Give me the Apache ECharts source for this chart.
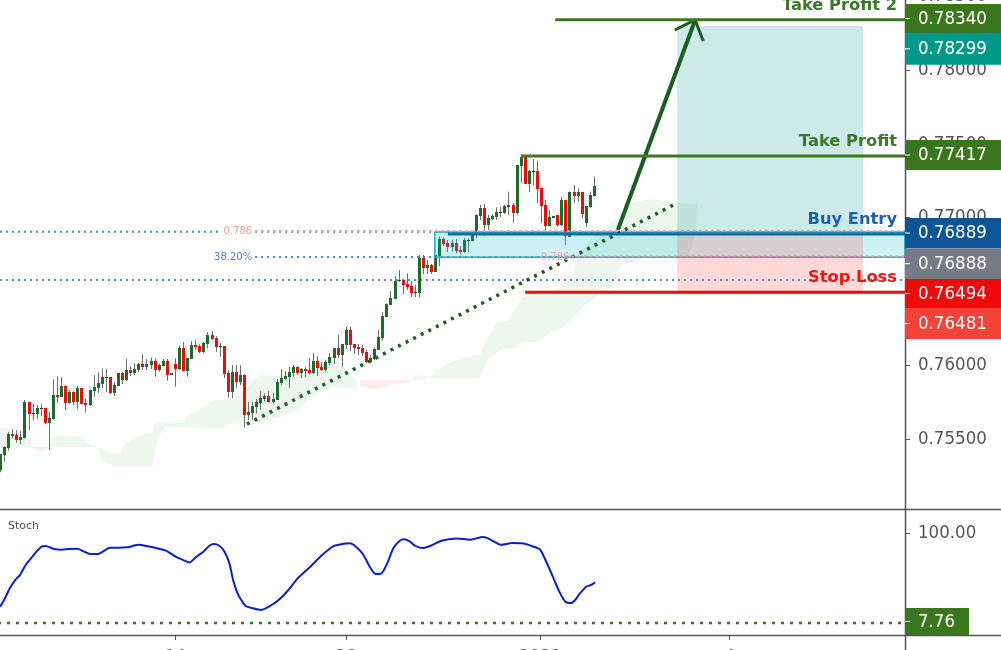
<!DOCTYPE html>
<html lang="en">
<head>
<meta charset="UTF-8">
<title>Buy entry chart</title>
<script src="https://cdn.jsdelivr.net/npm/echarts@6/dist/echarts.min.js"></script>
<style>html,body{margin:0;height:100%;background:#fff}#main{width:1001px;height:650px}</style>
</head>
<body>
<div id="main"></div>
<script>
// open, close, low, high per bar
var candles = [
[.75290,.75398,.75275,.75398],[.75391,.75448,.75346,.75452],[.75441,.75533,.75421,.75549],[.75533,.75520,.75504,.75567],
[.75524,.75493,.75475,.75561],[.75493,.75513,.75466,.75554],[.75509,.75750,.75504,.75764],[.75750,.75671,.75561,.75750],
[.75674,.75671,.75628,.75737],[.75671,.75710,.75633,.75730],[.75710,.75705,.75655,.75741],[.75710,.75610,.75601,.75710],
[.75610,.75642,.75425,.75685],[.75637,.75798,.75633,.75906],[.75798,.75786,.75746,.75926],[.75786,.75859,.75786,.75922],
[.75859,.75746,.75696,.75865],[.75746,.75818,.75737,.75832],[.75818,.75753,.75730,.75825],[.75753,.75845,.75705,.75859],
[.75845,.75739,.75737,.75850],[.75743,.75732,.75678,.75775],[.75730,.75832,.75723,.75836],[.75827,.75852,.75786,.75933],
[.75845,.75879,.75813,.75953],[.75872,.75920,.75843,.75978],[.75916,.75920,.75818,.75974],[.75920,.75811,.75804,.75920],
[.75811,.75865,.75793,.75888],[.75861,.75947,.75861,.75947],[.75947,.75899,.75872,.75956],[.75899,.75967,.75893,.76042],
[.75967,.75949,.75926,.75994],[.75949,.75974,.75933,.76014],[.75967,.76008,.75953,.76017],[.76008,.75990,.75967,.76075],
[.75990,.76008,.75967,.76042],[.76003,.76028,.75974,.76052],[.76028,.75967,.75922,.76042],[.75967,.76001,.75956,.76012],
[.75994,.76028,.75994,.76042],[.76028,.75935,.75895,.76042],[.75935,.75944,.75935,.75944],[.76008,.75974,.75854,.76046],
[.75974,.76116,.75967,.76136],[.76116,.75963,.75956,.76157],[.75963,.76048,.75922,.76048],[.76042,.76136,.76042,.76163],
[.76136,.76125,.76103,.76170],[.76130,.76091,.76080,.76143],[.76089,.76150,.76084,.76157],[.76143,.76204,.76114,.76224],
[.76204,.76179,.76170,.76231],[.76184,.76123,.76091,.76197],[.76130,.76125,.76057,.76150],[.76130,.75940,.75911,.76130],
[.75947,.75818,.75780,.75967],[.75818,.75953,.75777,.76001],[.75953,.75886,.75845,.76001],[.75886,.75933,.75865,.76001],
[.75933,.75662,.75576,.75940],[.75663,.75681,.75629,.75751],[.75676,.75724,.75629,.75751],[.75717,.75751,.75674,.75771],
[.75744,.75776,.75697,.75823],[.75771,.75791,.75753,.75810],[.75791,.75751,.75746,.75823],[.75751,.75769,.75742,.75814],
[.75764,.75886,.75764,.75907],[.75880,.75913,.75866,.75974],[.75907,.75927,.75900,.75961],[.75920,.75954,.75846,.75988],
[.75947,.75988,.75922,.76001],[.75988,.75947,.75934,.75995],[.75947,.75974,.75913,.75981],[.75974,.75961,.75922,.75986],
[.75968,.75947,.75940,.76049],[.75947,.76029,.75940,.76083],[.76029,.75981,.75927,.76062],[.75988,.75968,.75961,.76022],
[.75968,.76022,.75956,.76035],[.76015,.76056,.76001,.76083],[.76049,.76117,.76008,.76117],[.76117,.76069,.76049,.76205],
[.76069,.76144,.75990,.76144],[.76137,.76239,.76110,.76259],[.76239,.76137,.76096,.76259],[.76144,.76117,.76076,.76144],
[.76123,.76110,.76069,.76144],[.76117,.76083,.76062,.76137],[.76090,.76022,.76015,.76103],[.76022,.76049,.76013,.76069],
[.76042,.76110,.76035,.76121],[.76103,.76191,.76103,.76239],[.76184,.76333,.76166,.76360],[.76327,.76415,.76327,.76419],
[.76408,.76455,.76408,.76503],[.76449,.76570,.76449,.76604],[.76570,.76577,.76564,.76645],[.76577,.76543,.76482,.76577],
[.76550,.76530,.76510,.76622],[.76537,.76489,.76462,.76570],[.76496,.76491,.76462,.76543],[.76490,.76727,.76460,.76747],
[.76727,.76659,.76618,.76747],[.76659,.76679,.76618,.76713],[.76679,.76632,.76618,.76686],[.76632,.76747,.76632,.76747],
[.76740,.76855,.76672,.76871],[.76855,.76821,.76808,.76867],[.76828,.76801,.76767,.76849],[.76801,.76828,.76770,.76849],
[.76828,.76774,.76758,.76855],[.76781,.76767,.76754,.76808],[.76767,.76849,.76763,.76862],[.76846,.76849,.76767,.76860],
[.76842,.76882,.76842,.76916],[.76905,.77018,.76860,.77025],[.77011,.77065,.76984,.77086],[.77065,.76950,.76876,.77092],
[.76950,.76998,.76916,.77018],[.76991,.77011,.76984,.77025],[.77004,.77038,.76984,.77070],[.77036,.77034,.77002,.77074],
[.77031,.77079,.77025,.77086],[.77072,.77086,.77018,.77176],[.77086,.77031,.76966,.77097],[.77031,.77357,.77022,.77357],
[.77350,.77411,.77232,.77431],[.77411,.77228,.77228,.77424],[.77228,.77316,.77174,.77323],[.77316,.77311,.77221,.77397],
[.77316,.77194,.77097,.77386],[.77201,.77079,.76961,.77201],[.77086,.76943,.76916,.77120],[.76943,.77004,.76943,.77047],
[.76998,.77011,.76998,.77011],[.77018,.76950,.76939,.77018],[.76950,.77120,.76943,.77142],[.77120,.76876,.76815,.77120],
[.76871,.77174,.76871,.77176],[.77174,.77147,.77097,.77221],[.77147,.77174,.77108,.77199],[.77174,.77025,.76995,.77174],
[.76964,.77079,.76934,.77079],[.77072,.77153,.77063,.77176],[.77147,.77214,.77142,.77278]
];

// ichimoku cloud outlines, [bar, price]
var cloudGreenA = [[0,.75574],[2,.75574],[3.7,.75540],[6.1,.75507],[7.4,.75493],[8.1,.75446],[0,.75446]];
var cloudPinkA = [[8.1,.75446],[11.6,.75446],[11.3,.75425],[9.3,.75418]];
var cloudGreenB = [[11.6,.75446],[12.8,.75513],[14,.75520],[20.2,.75513],[22.1,.75459],[24.1,.75446]];
var cloudGreenC = [[24.1,.75446],[27,.75412],[29.5,.75398],[30.7,.75473],[33.7,.75513],[36.1,.75540],[37.4,.75540],[38.1,.75608],
  [45,.75608],[46.2,.75662],[49.2,.75703],[52.4,.75757],[57.3,.75778],[60.7,.75852],[63.9,.75933],[68.8,.75927],[75.5,.75988],
  [79.4,.76055],[83.6,.76015],[88,.75879],[88,.75839],[81.9,.75852],[78.7,.75818],[76.2,.75778],[73.8,.75710],[68.8,.75649],
  [63.9,.75615],[60.7,.75608],[55.8,.75601],[54.8,.75574],[40.6,.75581],[38.8,.75513],[37.4,.75310],[29,.75310],[27,.75330],[25.1,.75358]];
var cloudPinkB = [[88.5,.75900],[100.8,.75900],[100.8,.75886],[95.9,.75866],[93,.75839],[88.5,.75852]];
var cloudGreenD = [[101.3,.75906],[102.5,.75933],[105.7,.75920],[107.4,.75967],[110.6,.76015],[115.1,.76062],[118,.76069],[119.2,.76150],
  [122.2,.76292],[124.9,.76299],[127.4,.76421],[128.6,.76462],[137,.76509],[140.9,.76624],[141.9,.76726],[145.1,.76848],[151.7,.77004],
  [154.9,.77099],[159.8,.77126],[166.5,.77099],[171.4,.77085],[170.9,.76868],[168.9,.76733],[159.1,.76726],[155.6,.76699],[152.9,.76679],
  [151.7,.76624],[150.7,.76530],[146.8,.76469],[143.8,.76408],[140.9,.76320],[138.4,.76259],[135.2,.76218],[132,.76157],[128.3,.76157],
  [127.1,.76116],[122.9,.76103],[119.9,.76035],[118,.75913],[110.4,.75906],[105.7,.75913],[101.3,.75893]];

var trendBars = [60.7, 166];
var trendPrices = [.75601, .77092];
var arrowBars = [165.9, 170.9, 172.9];
var arrowPrices = [.78271, .78339, .78196];
var arrowTail = [151.9, .76916];

var fibBlueLines = [[0, 54.6, .76905], [62.7, 222.5, .76905], [62.7, 222.5, .76733], [0, 222.5, .76577]];
var fibPinkLines = [[62.7, 222.5, .76909], [140.6, 222.5, .76736]];
var fibBox = [106.9, 222.5, .76902, .76731];

var positionBars = [166.5, 212.2];
var targetPrice = .78299, entryPrice = .76888, stopPrice = .76481;

var levelNames = ['Take Profit 2', 'Take Profit', 'Buy Entry', 'Stop Loss'];
var levelPrices = [.78340, .77417, .76889, .76494];
var levelStartBars = [136.5, 128.3, 110.1, 129.1];

var tagLabels = ['0.78340', '0.78299', '0.77417', '0.76889', '0.76888', '0.76494', '0.76481'];
var tagPrices = [.78340, .78299, .77417, .76889, .76888, .76494, .76481];

var priceTicks = [.755, .76, .765, .77, .775, .78, .785];
var xTickBars = [43.1, 85.1, 132.8, 179.4];
var xTickLabels = ['14', '28', '2021', '4'];

var stochBars = [0,1,2.4,3.9,4.9,6.3,7.8,9.2,10.2,11.2,13.1,15.1,17,19,20.4,22.2,24.1,25.5,27,29.2,31.1,32.6,34,36,38.4,40.8,43.2,45.2,46.6,48.1,
  50,51.5,52.5,53.9,55.2,56.4,57.3,58.3,59.3,60.4,62.2,64.1,66.1,68.5,70.9,73.4,76.3,79.2,82.1,84.1,86,87.5,89.2,90.9,92.3,93.8,95.2,96.7,98.2,99.3,
  100.6,102,103.8,105.9,108.4,110.3,112.2,115.6,117.1,118.6,120,121.5,123.2,125.9,128.3,130.7,132.7,134.1,136.1,137.5,139,140.4,141.4,142.4,144.1,145.3,146.3];
var stochValues = [24.5,31.3,43.3,52.8,56.9,67.2,75,81.9,86,86.7,83.9,82.9,83.6,83.9,81.5,78.5,78.5,81.5,85,85,85.3,86.7,88,86.7,84.6,81.9,75.7,72,69.9,75,
  80.9,87,88.7,87,80.9,68.9,51.8,39.2,31.3,25.2,22.8,21.1,24.5,31.3,41.6,54.5,65.5,77.4,86.7,88.7,89.4,86,78.5,65.5,58,58.7,68.9,84.3,91.8,93.5,
  91.8,87,84.6,87,91.8,93.5,94.5,93.2,94.5,95.9,94.5,91.1,88,89.7,89.4,86.7,83.3,72.3,53.5,39.9,29.6,28.2,31.3,37.1,45,46.7,49.4];
var stochLevel = 7.76;

var FONT = '"DejaVu Sans"';
var AXIS_FONT = '"DejaVu Sans Condensed", "DejaVu Sans"';
var AXIS_SIZE = 18.5;
var BAR_COUNT = 223;
var categories = [];
for (var i = 0; i < BAR_COUNT; i++) categories.push(String(i));

var chart = echarts.init(document.getElementById('main'));

function pts(api, list) {
  return list.map(function (p) { return api.coord(p); });
}
function polygonSeries(list, color, z) {
  return {
    type: 'custom', xAxisIndex: 1, yAxisIndex: 0, z: z, silent: true, data: [[0, 0]],
    renderItem: function (params, api) {
      return { type: 'polygon', shape: { points: pts(api, list) }, style: { fill: color } };
    }
  };
}
function dottedSeries(lines, color, width, dash, z) {
  return {
    type: 'custom', xAxisIndex: 1, yAxisIndex: 0, z: z, silent: true, data: [[0, 0]],
    renderItem: function (params, api) {
      return {
        type: 'group',
        children: lines.map(function (l) {
          var a = api.coord([l[0], l[2]]), b = api.coord([l[1], l[2]]);
          return { type: 'line', shape: { x1: a[0], y1: a[1], x2: b[0], y2: b[1] },
            style: { stroke: color, lineWidth: width, lineDash: dash } };
        })
      };
    }
  };
}
function rectSeries(x0, x1, top, bottom, style, z) {
  return {
    type: 'custom', xAxisIndex: 1, yAxisIndex: 0, z: z, silent: true, data: [[0, 0]],
    renderItem: function (params, api) {
      var a = api.coord([x0, top]), b = api.coord([x1, bottom]);
      return { type: 'rect', shape: { x: a[0], y: a[1], width: b[0] - a[0], height: b[1] - a[1] }, style: style };
    }
  };
}
function textAt(bar, price, str, color, dy, size) {
  return {
    type: 'custom', xAxisIndex: 1, yAxisIndex: 0, z: 6, silent: true, data: [[0, 0]],
    renderItem: function (params, api) {
      var p = api.coord([bar, price]);
      return { type: 'text', style: { text: str, x: p[0], y: p[1] + (dy || 0), fill: color, align: 'right', verticalAlign: 'middle',
        fontFamily: FONT, fontSize: size || 10 } };
    }
  };
}

// wick and body kept apart because the platform draws a grey wick on a coloured body
function renderCandle(params, api) {
  var c = candles[params.dataIndex];
  var x = Math.round(api.coord([params.dataIndex, c[0]])[0]);
  var open = Math.round(api.coord([params.dataIndex, c[0]])[1]);
  var close = Math.round(api.coord([params.dataIndex, c[1]])[1]);
  var low = api.coord([params.dataIndex, c[2]])[1];
  var high = api.coord([params.dataIndex, c[3]])[1];
  var up = c[1] >= c[0];
  var top = Math.min(open, close), h = Math.max(Math.abs(open - close), 1);
  var fill = h < 2 ? (up ? '#14502a' : '#6e1414') : (up ? '#1f6b2c' : '#f00b0b');
  return {
    type: 'group',
    children: [
      { type: 'line', shape: { x1: x + 0.5, y1: high, x2: x + 0.5, y2: low }, style: { stroke: '#6e6e6e', lineWidth: 1 } },
      { type: 'rect', shape: { x: x - 1, y: top, width: 3, height: h }, style: { fill: fill } }
    ]
  };
}

// tag boxes sit on the price but get pushed apart, same as the platform does
var tagColors = ['#3a771c', '#00998a', '#3a771c', '#0c5596', '#787b86', '#f00b0b', '#f44336'];
var tagShifts = [-1.3, 23, -1, -1, 29.5, 1.2, 29.3];
var tagHeights = [29, 32, 30, 30, 31, 29, 31];
var levelColors = ['#3c781c', '#3c781c', '#0b6fa8', '#f00b0b'];
var levelTextColors = ['#3a7a28', '#3a7a28', '#1c5fb8', '#ef1515'];

function tagShape(y, h, w, color, str) {
  return {
    type: 'group',
    children: [
      { type: 'rect', shape: { x: 905, y: y - h / 2, width: w, height: h }, style: { fill: color } },
      { type: 'line', shape: { x1: 905, y1: y, x2: 910, y2: y }, style: { stroke: '#fff', lineWidth: 1 } },
      { type: 'text', style: { text: str, x: 918, y: y + 0.5, fill: '#fff', align: 'left', verticalAlign: 'middle', fontFamily: AXIS_FONT, fontSize: AXIS_SIZE } }
    ]
  };
}

var option = {
  animation: false,
  backgroundColor: '#fff',
  grid: [
    { left: -2, width: 907, top: -10, height: 519, outerBoundsMode: 'none' },
    { left: -2, width: 907, top: 510, height: 125, outerBoundsMode: 'none' }
  ],
  xAxis: [
    { type: 'category', gridIndex: 0, data: categories, boundaryGap: true, axisLine: { show: false, onZero: false }, axisTick: { show: false }, axisLabel: { show: false }, splitLine: { show: false } },
    { type: 'value', gridIndex: 0, min: -0.5, max: 222.5, show: false, axisLine: { onZero: false } },
    { type: 'value', gridIndex: 1, min: -0.5, max: 222.5, splitLine: { show: false }, axisLine: { show: false, onZero: false },
      axisTick: { show: true, length: 5, lineStyle: { color: '#555' }, customValues: xTickBars },
      axisLabel: { show: true, customValues: xTickBars, margin: 13, color: '#555', fontFamily: AXIS_FONT, fontSize: AXIS_SIZE,
        formatter: function (v) { return xTickLabels[xTickBars.indexOf(v)]; } } }
  ],
  yAxis: [
    { type: 'value', gridIndex: 0, position: 'right', min: .75026, max: .78542, splitLine: { show: false }, axisLine: { show: false, onZero: false },
      axisTick: { show: true, length: 5, lineStyle: { color: '#555' }, customValues: priceTicks },
      axisLabel: { customValues: priceTicks, margin: 13, color: '#555', fontFamily: AXIS_FONT, fontSize: AXIS_SIZE,
        formatter: function (v) { return v.toFixed(5); } } },
    { type: 'value', gridIndex: 1, position: 'right', min: -4.55, max: 123.6, splitLine: { show: false }, axisLine: { show: false, onZero: false },
      axisTick: { show: true, length: 5, lineStyle: { color: '#555' }, customValues: [100] },
      axisLabel: { customValues: [100], margin: 13, color: '#555', fontFamily: AXIS_FONT, fontSize: AXIS_SIZE,
        formatter: function (v) { return v.toFixed(2); } } }
  ],
  graphic: [
    { type: 'line', z: 5, shape: { x1: 0, y1: 509.5, x2: 1001, y2: 509.5 }, style: { stroke: '#555', lineWidth: 1.5 } },
    { type: 'line', z: 5, shape: { x1: 0, y1: 635.5, x2: 1001, y2: 635.5 }, style: { stroke: '#555', lineWidth: 1.5 } },
    { type: 'line', z: 5, shape: { x1: 905.5, y1: 0, x2: 905.5, y2: 650 }, style: { stroke: '#555', lineWidth: 1.5 } },
    { type: 'text', z: 5, style: { text: 'Stoch', x: 8, y: 521, fill: '#555', fontFamily: FONT, fontSize: 11 } }
  ],
  series: [
    polygonSeries(cloudGreenA, '#edf7ee', 1),
    polygonSeries(cloudPinkA, '#feeceb', 1),
    polygonSeries(cloudGreenB, '#edf7ee', 1),
    polygonSeries(cloudGreenC, '#edf7ee', 1),
    polygonSeries(cloudPinkB, '#feeceb', 1),
    polygonSeries(cloudGreenD, '#edf7ee', 1),
    dottedSeries(fibBlueLines, '#4a8bd0', 2, [2, 4], 1),
    {
      type: 'custom', xAxisIndex: 0, yAxisIndex: 0, z: 2, silent: true,
      renderItem: renderCandle,
      data: candles.map(function (c, k) { return [k, c[0], c[1], c[2], c[3]]; })
    },
    {
      type: 'line', xAxisIndex: 1, yAxisIndex: 0, z: 3, symbol: 'none', silent: true,
      lineStyle: { color: '#1b5e20', width: 3.5, type: [3, 5.5] },
      data: [[trendBars[0], trendPrices[0]], [trendBars[1], trendPrices[1]]]
    },
    rectSeries(fibBox[0], fibBox[1], fibBox[2], fibBox[3], { fill: 'rgba(0,188,212,0.2)', stroke: '#14b0cc', lineWidth: 1.5 }, 3),
    dottedSeries(fibPinkLines, '#ee9c9c', 2, [2.5, 3.5], 4),
    rectSeries(positionBars[0], positionBars[1], targetPrice, entryPrice, { fill: 'rgba(0,150,136,0.2)' }, 4),
    rectSeries(positionBars[0], positionBars[1], entryPrice, stopPrice, { fill: 'rgba(244,67,54,0.2)' }, 4),
    textAt(62, .76905, '0.786', '#f4a0a0', 0),
    textAt(62, .76733, '38.20%', '#4a8bd0', 0),
    textAt(140, .76733, '0.786', '#f4a0a0', 0),
    {
      type: 'line', xAxisIndex: 1, yAxisIndex: 0, z: 5, symbol: 'none', silent: true,
      lineStyle: { color: '#1b5e20', width: 4 },
      data: [arrowTail, [arrowBars[1], arrowPrices[1]]]
    },
    {
      type: 'line', xAxisIndex: 1, yAxisIndex: 0, z: 5, symbol: 'none', silent: true,
      lineStyle: { color: '#1b5e20', width: 3 },
      data: arrowBars.map(function (b, k) { return [b, arrowPrices[k]]; })
    },
    {
      type: 'custom', xAxisIndex: 1, yAxisIndex: 0, z: 6, silent: true, data: [[0, 0]],
      renderItem: function (params, api) {
        var kids = [];
        levelNames.forEach(function (name, k) {
          var a = api.coord([levelStartBars[k], levelPrices[k]]), b = api.coord([222.5, levelPrices[k]]);
          kids.push({ type: 'line', shape: { x1: a[0], y1: a[1], x2: b[0], y2: b[1] }, style: { stroke: levelColors[k], lineWidth: 3 } });
          kids.push({ type: 'text', style: { text: name, x: 897, y: a[1] - 14.5, fill: levelTextColors[k], align: 'right', verticalAlign: 'middle',
            fontFamily: FONT, fontWeight: 'bold', fontSize: 16.3 } });
        });
        return { type: 'group', children: kids };
      }
    },
    {
      type: 'custom', xAxisIndex: 1, yAxisIndex: 0, z: 7, silent: true, data: [[0, 0]],
      renderItem: function (params, api) {
        return {
          type: 'group',
          children: tagLabels.map(function (str, k) {
            return tagShape(api.coord([0, tagPrices[k]])[1] + tagShifts[k], tagHeights[k], 96, tagColors[k], str);
          })
        };
      }
    },
    {
      type: 'line', xAxisIndex: 2, yAxisIndex: 1, z: 3, symbol: 'none', silent: true, smooth: 0.25,
      lineStyle: { color: '#0a1fd0', width: 2 },
      data: stochBars.map(function (b, k) { return [b, stochValues[k]]; })
    },
    {
      type: 'line', xAxisIndex: 2, yAxisIndex: 1, z: 3, symbol: 'none', silent: true,
      lineStyle: { color: '#3a771c', width: 2.5, type: [3, 6] },
      data: [[-0.5, stochLevel], [222.5, stochLevel]]
    },
    {
      type: 'custom', xAxisIndex: 2, yAxisIndex: 1, z: 7, silent: true, data: [[0, 0]],
      renderItem: function (params, api) {
        return tagShape(api.coord([0, stochLevel])[1] - 1.5, 27, 64, '#3a771c', stochLevel.toFixed(2));
      }
    }
  ]
};
chart.setOption(option);
</script>
</body>
</html>
